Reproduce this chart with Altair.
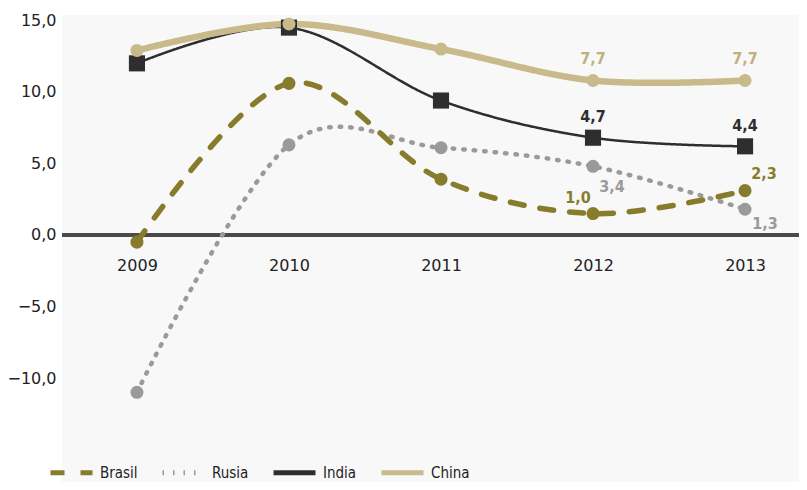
import altair as alt
import pandas as pd

years = [2009, 2010, 2011, 2012, 2013]
series_order = ["Brasil", "Rusia", "India", "China"]
brasil = [-0.5, 10.6, 3.9, 1.5, 3.1]
rusia = [-11.0, 6.3, 6.1, 4.8, 1.8]
india = [12.0, 14.5, 9.4, 6.8, 6.2]
china = [12.9, 14.75, 13.0, 10.8, 10.8]

label_series = ["China", "China", "India", "India", "Brasil", "Brasil", "Rusia", "Rusia"]
label_year = [2012, 2013, 2012, 2013, 2012, 2013, 2012, 2013]
label_text = ["7,7", "7,7", "4,7", "4,4", "1,0", "2,3", "3,4", "1,3"]

y_ticks = [-10, -5, 0, 5, 10, 15]

colors = ["#877c2c", "#9a9a9a", "#2e2e2e", "#c9ba8c"]
label_colors = {"Brasil": "#877c2c", "Rusia": "#9a9a9a", "India": "#2e2e2e", "China": "#bfb07f"}
dashes = [[14, 16], [1.5, 9], [1, 0], [1, 0]]
width_of = {"Brasil": 5.5, "Rusia": 4.5, "India": 2.5, "China": 6.5}
shapes = {"Brasil": "circle", "Rusia": "circle", "India": "square", "China": "circle"}
sizes = {"Brasil": 170, "Rusia": 170, "India": 260, "China": 170}
color_of = dict(zip(series_order, colors))

values = {"Brasil": brasil, "Rusia": rusia, "India": india, "China": china}
draw_order = ["India", "Rusia", "Brasil", "China"]
rows = []
for s in draw_order:
    for yr, v in zip(years, values[s]):
        rows.append({"series": s, "year": yr, "value": v})
df = pd.DataFrame(rows)

lab_rows = []
for s, yr, t in zip(label_series, label_year, label_text):
    lab_rows.append({"series": s, "year": yr, "label": t,
                     "value": values[s][years.index(yr)]})
lab_df = pd.DataFrame(lab_rows)

FONT_C = "Liberation Sans Narrow, DejaVu Sans Condensed, Liberation Sans, sans-serif"

x_enc = alt.X("year:Q", scale=alt.Scale(domain=[2008.507, 2013.355], nice=False, zero=False),
              axis=alt.Axis(values=years, format="d", title=None, domain=False, ticks=False,
                            grid=False, labelFontSize=16, labelFont="DejaVu Sans",
                            labelColor="#222", offset=-231, labelPadding=6))
y_enc = alt.Y("value:Q", scale=alt.Scale(domain=[-17.27, 15.38], nice=False, zero=False),
              axis=alt.Axis(values=y_ticks, title=None, domain=False, ticks=False, grid=False,
                            labelExpr="replace(format(datum.value, '.1f'), '.', ',')",
                            labelFontSize=16, labelFont="DejaVu Sans", labelColor="#222",
                            labelPadding=6))

leg = alt.Legend(title=None, orient="none", direction="horizontal", legendX=-14, legendY=434,
                 symbolType="stroke", symbolSize=1764, symbolStrokeWidth=5,
                 labelFont=FONT_C, labelFontSize=15, labelColor="#222",
                 columnPadding=14, labelOffset=5)

base = alt.Chart(df)

zero = alt.Chart(df).mark_rule(color="#4a4a4a", strokeWidth=3).encode(y=alt.datum(0))

width_cond = [{"test": f"datum.series === '{s}'", "value": w} for s, w in width_of.items()]

lines = base.mark_line(interpolate="cardinal", strokeCap="round").encode(
    x=x_enc, y=y_enc,
    color=alt.Color("series:N", scale=alt.Scale(domain=series_order, range=colors), legend=leg),
    strokeDash=alt.StrokeDash("series:N", scale=alt.Scale(domain=series_order, range=dashes), legend=leg),
    strokeWidth=alt.StrokeWidthValue(value=3, condition=width_cond),
)

point_layers = []
for s in series_order:
    point_layers.append(
        alt.Chart(df[df.series == s]).mark_point(
            filled=True, opacity=1, shape=shapes[s], size=sizes[s], color=color_of[s]
        ).encode(x=alt.X("year:Q"), y=alt.Y("value:Q"))
    )

offsets = {
    ("China", 2012): (0, -22), ("China", 2013): (0, -22),
    ("India", 2012): (0, -21), ("India", 2013): (0, -20),
    ("Brasil", 2012): (-15, -16), ("Brasil", 2013): (19, -17),
    ("Rusia", 2012): (19, 21), ("Rusia", 2013): (20, 15),
}
text_layers = []
for s, yr in zip(label_series, label_year):
    dx, dy = offsets[(s, yr)]
    sub = lab_df[(lab_df.series == s) & (lab_df.year == yr)]
    text_layers.append(
        alt.Chart(sub).mark_text(font=FONT_C, fontSize=16, fontWeight="bold",
                                 color=label_colors[s], dx=dx, dy=dy).encode(
            x=alt.X("year:Q"), y=alt.Y("value:Q"), text="label:N")
    )

chart = alt.layer(zero, lines, *point_layers, *text_layers).properties(
    width=737, height=467,
    autosize=alt.AutoSizeParams(type="none"),
    padding={"left": 54, "top": 7, "right": 0, "bottom": 0},
    background="white",
).configure_view(stroke=None, fill="#f8f8f8")

chart.save("out.html", embed_options={"renderer": "svg", "actions": False})
